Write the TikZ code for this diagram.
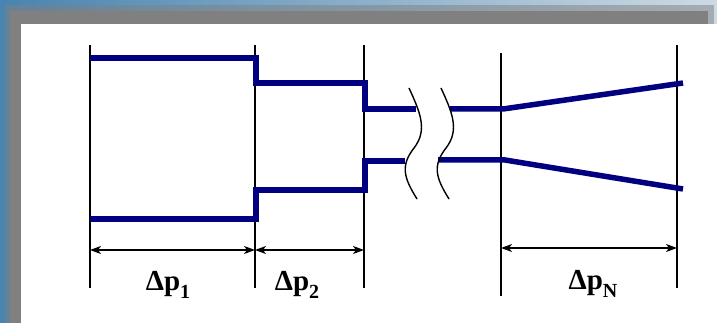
\documentclass[tikz,border=0pt]{standalone}
\usepackage{fontspec}
\setmainfont{Liberation Serif}
\usetikzlibrary{arrows,arrows.meta,positioning,calc}

\definecolor{pipeblue}{RGB}{0,0,128}
\definecolor{frameblue}{RGB}{72,132,176}
\definecolor{framelight}{RGB}{205,218,228}

\begin{document}
\begin{tikzpicture}[x=1pt, y=-1pt]
    \tikzstyle{pipe} = [draw=pipeblue, line width=5.5pt, line join=miter]
    \tikzstyle{limit} = [draw=black, line width=1.4pt]
    \tikzstyle{breakline} = [draw=black, line width=1.4pt]
    \tikzstyle{dim} = [draw=black, line width=1.3pt, {Stealth[length=11pt,width=8pt,inset=3pt]}-{Stealth[length=11pt,width=8pt,inset=3pt]}]
    \tikzstyle{dlabel} = [anchor=base, inner sep=0pt, font=\fontsize{29}{30}\selectfont\bfseries]

    \useasboundingbox (0,0) rectangle (717,323);

    % Frame
    \fill[left color=frameblue, right color=framelight] (0,0) rectangle (717,323);
    \fill[gray, opacity=0.5] (5,5) rectangle (714,323);
    \fill[gray] (10,11) rectangle (708,323);
    \fill[white] (21,24) rectangle (717,323);

    % Section limits
    \coordinate (t1) at (90,45);   \coordinate (b1) at (90,288);
    \coordinate (t2) at (255,45);  \coordinate (b2) at (255,288);
    \coordinate (t3) at (364,45);  \coordinate (b3) at (364,288);
    \coordinate (t4) at (501,53);  \coordinate (b4) at (501,296);
    \coordinate (t5) at (677,45);  \coordinate (b5) at (677,288);
    \draw[limit] (t1) -- (b1);
    \draw[limit] (t2) -- (b2);
    \draw[limit] (t3) -- (b3);
    \draw[limit] (t4) -- (b4);
    \draw[limit] (t5) -- (b5);

    % Pipe, upper wall
    \draw[pipe] (90,58) -- (256,58) -- (256,83) -- (365,83) -- (365,109) -- (416,109);
    \draw[pipe] (450,109) -- (503,109) -- (683,83);
    % Pipe, lower wall
    \draw[pipe] (90,219) -- (256,219) -- (256,190) -- (365,190) -- (365,161) -- (405,161);
    \draw[pipe] (438,160) -- (505,160) -- (683,189);

    % Break marks
    \draw[breakline] (409,88) .. controls (420,112) and (428,130) .. (414,148)
        .. controls (400,166) and (404,178) .. (417,199);
    \draw[breakline] (441,88) .. controls (452,112) and (460,130) .. (446,148)
        .. controls (432,166) and (436,178) .. (449,199);

    % Dimensions
    \coordinate (d1) at (90,250);
    \coordinate (d2) at (255,250);
    \coordinate (d3) at (364,250);
    \coordinate (d4) at (501,248);
    \coordinate (d5) at (677,248);
    \draw[dim] (d1) -- (d2);
    \draw[dim] (d2) -- (d3);
    \draw[dim] (d4) -- (d5);

    % Labels
    \node[dlabel] (lab1) at (168,290) {Δp\raisebox{-0.3em}{\fontsize{20}{20}\selectfont 1}};
    \node[dlabel] (lab2) at (297,290) {Δp\raisebox{-0.3em}{\fontsize{20}{20}\selectfont 2}};
    \node[dlabel] (labN) at (593,289) {Δp\raisebox{-0.3em}{\fontsize{20}{20}\selectfont N}};
\end{tikzpicture}
\end{document}
